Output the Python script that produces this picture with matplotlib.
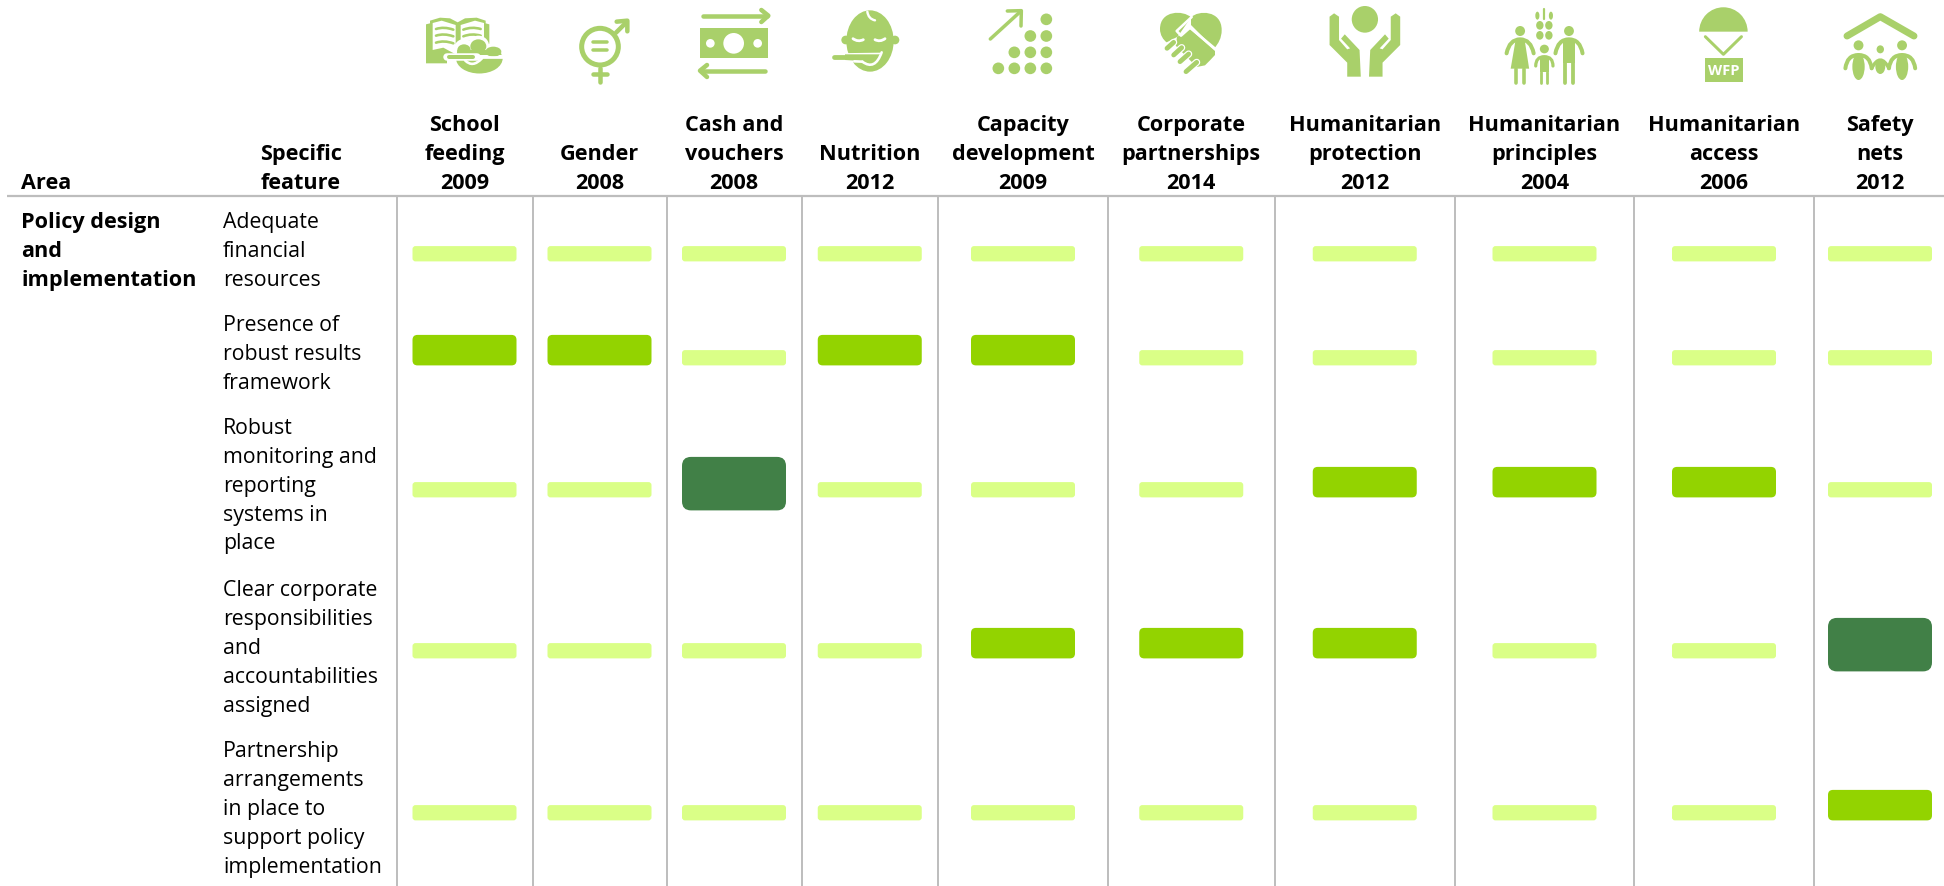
import matplotlib
matplotlib.use("Agg")
import matplotlib.pyplot as plt
from matplotlib.patches import FancyBboxPatch, Ellipse, Polygon, Rectangle, Wedge, PathPatch
from matplotlib.path import Path
from matplotlib.transforms import Affine2D

plt.rcParams['font.family'] = ['Open Sans', 'DejaVu Sans']

# table content
topics = [["School", "feeding", "2009"], ["Gender", "2008"], ["Cash and", "vouchers", "2008"],
          ["Nutrition", "2012"], ["Capacity", "development", "2009"], ["Corporate", "partnerships", "2014"],
          ["Humanitarian", "protection", "2012"], ["Humanitarian", "principles", "2004"],
          ["Humanitarian", "access", "2006"], ["Safety", "nets", "2012"]]
features = [["Adequate", "financial", "resources"],
            ["Presence of", "robust results", "framework"],
            ["Robust", "monitoring and", "reporting", "systems in", "place"],
            ["Clear corporate", "responsibilities", "and", "accountabilities", "assigned"],
            ["Partnership", "arrangements", "in place to", "support policy", "implementation"]]
area = ["Policy design", "and", "implementation"]

# rating per feature (rows) and policy (columns): 1 low, 2 medium, 3 high
adequate_resources = [1, 1, 1, 1, 1, 1, 1, 1, 1, 1]
results_framework = [2, 2, 1, 2, 2, 1, 1, 1, 1, 1]
monitoring_systems = [1, 1, 3, 1, 1, 1, 2, 2, 2, 1]
responsibilities = [1, 1, 1, 1, 2, 2, 2, 1, 1, 3]
partnerships = [1, 1, 1, 1, 1, 1, 1, 1, 1, 2]
ratings = [adequate_resources, results_framework, monitoring_systems, responsibilities, partnerships]

# layout in pixels
col_edges = [396.5, 532.5, 666.5, 801.5, 938, 1108, 1274.5, 1455, 1634, 1814, 1946]
row_base = [261.4, 365.4, 497.4, 658.4, 820.4]
row_text = [227.8, 330.8, 433.5, 595.8, 756.8]
head_base = [189.3, 160, 130.8]
pitch = 29
bar_w = 104
fs = 15.3
fs_bold = 15.6

GREEN = '#a9d06a'
GRID = '#bdbdbd'
bar_style = {1: ('#daff87', 15.3, 0, 3), 2: ('#93d300', 30.5, 0, 5), 3: ('#418047', 53.5, 13, 9)}

fig = plt.figure(figsize=(19.44, 8.86), dpi=100)
ax = fig.add_axes([0, 0, 1, 1])
ax.set_xlim(0, 1944)
ax.set_ylim(886, 0)
ax.axis('off')

ax.plot([7, 1944], [196, 196], color=GRID, lw=1.6, solid_capstyle='butt')
for x in col_edges[:-1]:
    ax.plot([x, x], [196, 886], color=GRID, lw=1.4, solid_capstyle='butt')

ax.text(21, head_base[0], "Area", fontsize=fs_bold, fontweight='bold', va='baseline')
ax.text(301, head_base[0], "feature", fontsize=fs_bold, fontweight='bold', va='baseline', ha='center')
ax.text(301, head_base[1], "Specific", fontsize=fs_bold, fontweight='bold', va='baseline', ha='center')

centres = [(col_edges[i] + col_edges[i + 1]) / 2 for i in range(len(topics))]
for c, lines in zip(centres, topics):
    for i, t in enumerate(reversed(lines)):
        ax.text(c, head_base[i], t, fontsize=fs_bold, fontweight='bold', ha='center', va='baseline')

for i, t in enumerate(area):
    ax.text(21, row_text[0] + i * pitch, t, fontsize=fs_bold, fontweight='bold', va='baseline')

for y0, lines in zip(row_text, features):
    for i, t in enumerate(lines):
        ax.text(223, y0 + i * pitch, t, fontsize=fs, va='baseline')

for r, row in enumerate(ratings):
    for c, level in enumerate(row):
        col, h, drop, rad = bar_style[level]
        bottom = row_base[r] + drop
        ax.add_patch(FancyBboxPatch((centres[c] - bar_w / 2, bottom - h), bar_w, h,
                                    boxstyle="round,pad=0,rounding_size=%g" % rad,
                                    fc=col, ec='none', zorder=3))


# icon helpers, coordinates are local to each icon
def px(w):
    return w * 0.72


def icon_tr(ox, oy=0, sx=1 / 3, sy=1 / 3):
    return Affine2D().scale(sx, sy).translate(ox, oy) + ax.transData


def fill(tr, pts, col=GREEN):
    ax.add_patch(Polygon(pts, closed=True, fc=col, ec='none', transform=tr, zorder=4))


def oval(tr, x, y, rx, ry=None, col=GREEN):
    ry = rx if ry is None else ry
    ax.add_patch(Ellipse((x, y), 2 * rx, 2 * ry, fc=col, ec='none', transform=tr, zorder=4))


def stroke(tr, pts, w, col=GREEN, smooth=False):
    if smooth:
        codes = [Path.MOVETO] + [Path.CURVE3] * (len(pts) - 1)
    else:
        codes = [Path.MOVETO] + [Path.LINETO] * (len(pts) - 1)
    ax.add_patch(PathPatch(Path(pts, codes), fc='none', ec=col, lw=px(w), capstyle='round',
                           joinstyle='round', transform=tr, zorder=4))


def blob(tr, pts, codes, col=GREEN):
    ax.add_patch(PathPatch(Path(pts, codes), fc=col, ec='none', transform=tr, zorder=4))


def book_icon():
    t = icon_tr(420, 5)
    fill(t, [(18, 58), (30, 55), (30, 47), (60, 38), (90, 40), (113, 52), (135, 40), (170, 38), (197, 47),
             (197, 55), (208, 58), (208, 140), (113, 175), (18, 175)])
    fill(t, [(38, 54), (65, 47), (107, 60), (107, 148), (70, 128), (38, 135)], 'white')
    fill(t, [(122, 60), (165, 47), (192, 54), (192, 120), (165, 118), (122, 148)], 'white')
    for y in (72, 92, 113):
        stroke(t, [(48, y), (72, y - 8), (100, y + 2)], 2.6, smooth=True)
        stroke(t, [(130, y + 2), (155, y - 8), (182, y)], 2.6, smooth=True)
    # food and bowl
    oval(t, 132, 132, 30, 30, 'white')
    oval(t, 175, 122, 32, 30, 'white')
    oval(t, 220, 140, 33, 26, 'white')
    fill(t, [(80, 146), (260, 146), (260, 215), (100, 215), (100, 176), (80, 176)], 'white')
    oval(t, 132, 135, 20, 17)
    oval(t, 175, 124, 24, 21)
    oval(t, 220, 140, 24, 15)
    fill(t, [(112, 135), (240, 135), (245, 150), (110, 150)])
    ax.add_patch(Wedge((178, 0), 70, 0, 180, fc=GREEN, ec='none', zorder=4,
                       transform=Affine2D().scale(1, 0.65).translate(0, 160) + t))
    stroke(t, [(80, 157), (170, 157)], 7.5, 'white')
    stroke(t, [(88, 157), (160, 157)], 4)
    stroke(t, [(135, 166), (158, 190), (186, 160)], 2.6, 'white', smooth=True)
    stroke(t, [(186, 157), (248, 157)], 2.6, 'white')


def gender_icon():
    t = icon_tr(410)
    ax.add_patch(Ellipse((570, 140), 110, 110, fc='none', ec=GREEN, lw=px(5), transform=t, zorder=4))
    stroke(t, [(549, 125), (591, 125)], 3.5)
    stroke(t, [(549, 150), (591, 150)], 3.5)
    stroke(t, [(570, 205), (570, 245)], 4.5)
    stroke(t, [(549, 222), (591, 222)], 4.5)
    stroke(t, [(618, 98), (650, 66)], 4.5)
    stroke(t, [(620, 65), (652, 62), (652, 94)], 4.5)


def cash_icon():
    t = icon_tr(410)
    stroke(t, [(880, 47), (1072, 47)], 4.5)
    stroke(t, [(1054, 30), (1075, 47), (1054, 66)], 4.5)
    ax.add_patch(Rectangle((870, 85), 205, 90, fc=GREEN, ec='none', transform=t, zorder=4))
    oval(t, 971, 130, 31, 31, 'white')
    oval(t, 901, 130, 13, 13, 'white')
    oval(t, 1043, 130, 13, 13, 'white')
    stroke(t, [(1065, 212), (875, 212)], 4.5)
    stroke(t, [(891, 195), (870, 212), (891, 231)], 4.5)


def baby_icon():
    t = icon_tr(825, 5)
    oval(t, 62, 105, 13)
    oval(t, 210, 105, 13)
    oval(t, 135, 108, 71, 92)
    stroke(t, [(127, 20), (130, 42), (150, 46)], 2.4, 'white', smooth=True)
    stroke(t, [(84, 101), (99, 112), (115, 104)], 2.8, 'white', smooth=True)
    stroke(t, [(150, 104), (165, 112), (180, 101)], 2.8, 'white', smooth=True)
    # spoon cut into the chin
    fill(t, [(15, 145), (165, 143), (165, 149), (110, 166), (85, 168), (88, 210), (15, 210)], 'white')
    fill(t, [(60, 148), (165, 148), (170, 165), (140, 178), (110, 168), (60, 165)])
    stroke(t, [(28, 155), (155, 155)], 4.8)
    stroke(t, [(88, 169), (112, 170)], 2.6, 'white')
    stroke(t, [(112, 170), (150, 198), (170, 142)], 2.6, 'white', smooth=True)


def capacity_icon():
    t = icon_tr(810)
    stroke(t, [(541, 117), (632, 34)], 3.5)
    stroke(t, [(592, 33), (634, 32), (633, 78)], 3.5)
    xs = [565, 613, 661, 709]
    ys = [205, 157, 108, 58]
    for r, y in enumerate(ys):
        for x in xs[r:]:
            oval(t, x, y, 17.5)


def heart_icon():
    t = icon_tr(1155, 5)
    lobe = [Path.MOVETO, Path.CURVE4, Path.CURVE4, Path.CURVE4, Path.CURVE4, Path.CURVE4, Path.CURVE4,
            Path.LINETO, Path.CLOSEPOLY]
    blob(t, [(108, 37), (85, 15), (15, 15), (15, 72), (15, 90), (25, 105), (35, 112), (68, 95), (108, 37)], lobe)
    blob(t, [(108, 37), (130, 15), (200, 15), (200, 75), (200, 100), (190, 115), (178, 130), (108, 60),
             (108, 37)], lobe)
    fill(t, [(66, 96), (105, 72), (180, 138), (180, 150), (165, 166), (150, 181), (125, 186), (62, 122)])
    stroke(t, [(110, 36), (65, 78), (78, 92), (105, 68), (185, 135)], 2.6, 'white')
    for (x0, y0, x1, y1) in [(36, 130, 56, 112), (56, 150, 80, 128), (75, 170, 101, 147), (93, 200, 125, 172)]:
        stroke(t, [(x0, y0), (x1, y1)], 7.2, 'white')
        stroke(t, [(x0, y0), (x1, y1)], 4.8)


def hands_icon():
    t = icon_tr(1300, 0, 1 / 2.435)
    oval(t, 158, 58, 32, 40)
    for m in (0, 1):
        pts = [(72, 50), (83, 40), (95, 50), (95, 120), (115, 148), (122, 145), (100, 116), (109, 103), (145, 150),
               (148, 230), (115, 230), (115, 188), (72, 135)]
        if m:
            pts = [(316 - x, y) for x, y in pts]
        fill(t, pts)


def family_icon():
    t = icon_tr(1300, 0, 1 / 2.435)
    stroke(t, [(595, 28), (595, 58)], 2.2)
    oval(t, 578, 47, 5, 12)
    oval(t, 611, 47, 5, 12)
    for y in (76, 106):
        oval(t, 584, y, 9, 13)
        oval(t, 606, y, 9, 13)
    # woman
    oval(t, 536, 93, 12, 15)
    stroke(t, [(503, 160), (510, 118), (536, 118), (562, 118), (569, 160)], 4, smooth=True)
    fill(t, [(525, 120), (547, 120), (558, 206), (513, 206)])
    stroke(t, [(526, 206), (526, 250)], 3.6)
    stroke(t, [(546, 206), (546, 250)], 3.6)
    # man
    oval(t, 655, 93, 12, 15)
    stroke(t, [(622, 160), (628, 118), (655, 118), (682, 118), (688, 160)], 4, smooth=True)
    fill(t, [(640, 120), (670, 120), (670, 190), (640, 190)])
    stroke(t, [(646, 190), (646, 250)], 3.8)
    stroke(t, [(664, 190), (664, 250)], 3.8)
    # child
    oval(t, 595, 147, 11, 13)
    stroke(t, [(574, 198), (574, 170), (595, 170), (616, 170), (616, 198)], 3.2, smooth=True)
    fill(t, [(584, 170), (606, 170), (606, 215), (584, 215)])
    stroke(t, [(588, 215), (588, 250)], 2.8)
    stroke(t, [(602, 215), (602, 250)], 2.8)


def wfp_icon():
    t = icon_tr(1300, 0, 1 / 2.435)
    ax.add_patch(Wedge((1031, 0), 59, 180, 360, fc=GREEN, ec='none', zorder=4,
                       transform=Affine2D().scale(1, 1.24).translate(0, 95) + t))
    stroke(t, [(987, 110), (1031, 163), (1075, 110)], 3)
    ax.add_patch(Rectangle((985, 175), 93, 70, fc=GREEN, ec='none', transform=t, zorder=4))
    ax.text(1300 + 1031 / 2.435, 70.7, "WFP", color='white', fontsize=10.5, fontweight='bold',
            ha='center', va='center', zorder=5)


def house_icon():
    t = icon_tr(1300, 0, 1 / 2.435)
    stroke(t, [(1332, 108), (1413, 50), (1495, 108)], 7)
    oval(t, 1360, 136, 12, 15)
    oval(t, 1413, 148, 9, 12)
    oval(t, 1466, 136, 12, 15)
    for cx in (1360, 1466):
        oval(t, cx, 200, 15, 40)
        stroke(t, [(cx - 32, 205), (cx - 28, 165), (cx, 165), (cx + 28, 165), (cx + 32, 205)], 4, smooth=True)
    oval(t, 1413, 200, 12, 22)
    stroke(t, [(1392, 205), (1413, 155), (1434, 205)], 3.4, smooth=True)


for f in (book_icon, gender_icon, cash_icon, baby_icon, capacity_icon, heart_icon, hands_icon,
          family_icon, wfp_icon, house_icon):
    f()

fig.savefig('out.png', dpi=100, facecolor='white')
